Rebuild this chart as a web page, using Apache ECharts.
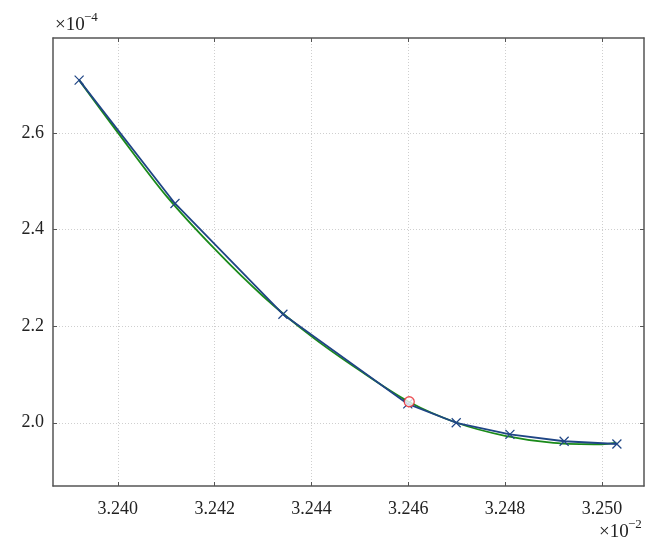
<!DOCTYPE html>
<html>
<head>
<meta charset="utf-8">
<script src="https://cdn.jsdelivr.net/npm/echarts@6.0.0/dist/echarts.min.js"></script>
<style>
  html, body { margin: 0; padding: 0; background: #fff; }
  #chart { width: 664px; height: 554px; }
</style>
</head>
<body>
<div id="chart"></div>
<script>
// values in units of 1e-2 (x) and 1e-4 (y)
const blueX = [3.23920, 3.24118, 3.24341, 3.24599, 3.24699, 3.24810, 3.24922, 3.25031];
const blueY = [2.7097, 2.4542, 2.2248, 2.0390, 2.0000, 1.9758, 1.9617, 1.9560];

const greenX = [3.2392, 3.2400, 3.2410, 3.2420, 3.2430, 3.2440, 3.2450, 3.2460, 3.2470, 3.2480, 3.2490, 3.2500, 3.2503];
const greenY = [2.7097, 2.601, 2.470, 2.360, 2.262, 2.179, 2.108, 2.044, 2.000, 1.973, 1.9585, 1.9555, 1.9588];

const redX = [3.24602];
const redY = [2.0435];

const xTicks = [3.240, 3.242, 3.244, 3.246, 3.248, 3.250];
const yTicks = [2.0, 2.2, 2.4, 2.6];

const xRange = [3.23866, 3.25087];
const yRange = [1.869, 2.797];

const FONT = 'Liberation Serif';
const frame = '#555';

let zip = (xs, ys) => xs.map((x, i) => [x, ys[i]]);

let chart = echarts.init(document.getElementById('chart'));

let tick = (vals) => ({ show: true, inside: true, length: 4, customValues: vals, lineStyle: { color: frame } });
let line = () => ({ show: true, onZero: false, lineStyle: { color: frame, width: 1.5 } });
let grid = { show: true, lineStyle: { color: '#cfcfcf', type: [1, 2], width: 1 } };

let option = {
    animation: false,
    backgroundColor: '#fff',
    grid: { left: 53, right: 20, top: 38, bottom: 68 },
    xAxis: [
        {
            type: 'value', position: 'bottom', min: xRange[0], max: xRange[1],
            axisLine: line(), axisTick: tick(xTicks),
            axisLabel: { customValues: xTicks, formatter: (v) => v.toFixed(3), margin: 14,
                fontFamily: FONT, fontSize: 18, color: '#222' },
            splitLine: grid
        },
        {
            type: 'value', position: 'top', min: xRange[0], max: xRange[1],
            axisLine: line(), axisTick: tick(xTicks),
            axisLabel: { show: false }, splitLine: { show: false }
        }
    ],
    yAxis: [
        {
            type: 'value', position: 'left', min: yRange[0], max: yRange[1],
            axisLine: line(), axisTick: tick(yTicks),
            axisLabel: { customValues: yTicks, formatter: (v) => v.toFixed(1), margin: 9,
                fontFamily: FONT, fontSize: 18, color: '#222' },
            splitLine: grid
        },
        {
            type: 'value', position: 'right', min: yRange[0], max: yRange[1],
            axisLine: line(), axisTick: tick(yTicks),
            axisLabel: { show: false }, splitLine: { show: false }
        }
    ],
    series: [
        {
            name: 'fit',
            type: 'line',
            data: zip(greenX, greenY),
            smooth: 0.3,
            showSymbol: false,
            lineStyle: { color: '#1a8a1a', width: 1.8 },
            z: 2
        },
        {
            name: 'samples',
            type: 'line',
            data: zip(blueX, blueY),
            symbol: 'path://M0,0L10,10M10,0L0,10',
            symbolSize: 9,
            itemStyle: { color: 'transparent', borderColor: '#1f4585', borderWidth: 1.2 },
            lineStyle: { color: '#1f4585', width: 1.8 },
            z: 3
        },
        {
            name: 'point',
            type: 'scatter',
            data: zip(redX, redY),
            symbol: 'circle',
            symbolSize: 10,
            itemStyle: { color: '#fff', borderColor: '#e8242a', borderWidth: 1.3 },
            z: 4
        }
    ],
    graphic: [
        { type: 'text', left: 55, top: 16, style: { text: '×10', font: '19px "Liberation Serif"', fill: '#222' } },
        { type: 'text', left: 84, top: 11, style: { text: '−4', font: '13px "Liberation Serif"', fill: '#222' } },
        { type: 'text', left: 599, top: 523, style: { text: '×10', font: '19px "Liberation Serif"', fill: '#222' } },
        { type: 'text', left: 628, top: 518, style: { text: '−2', font: '13px "Liberation Serif"', fill: '#222' } }
    ]
};

chart.setOption(option);
</script>
</body>
</html>
